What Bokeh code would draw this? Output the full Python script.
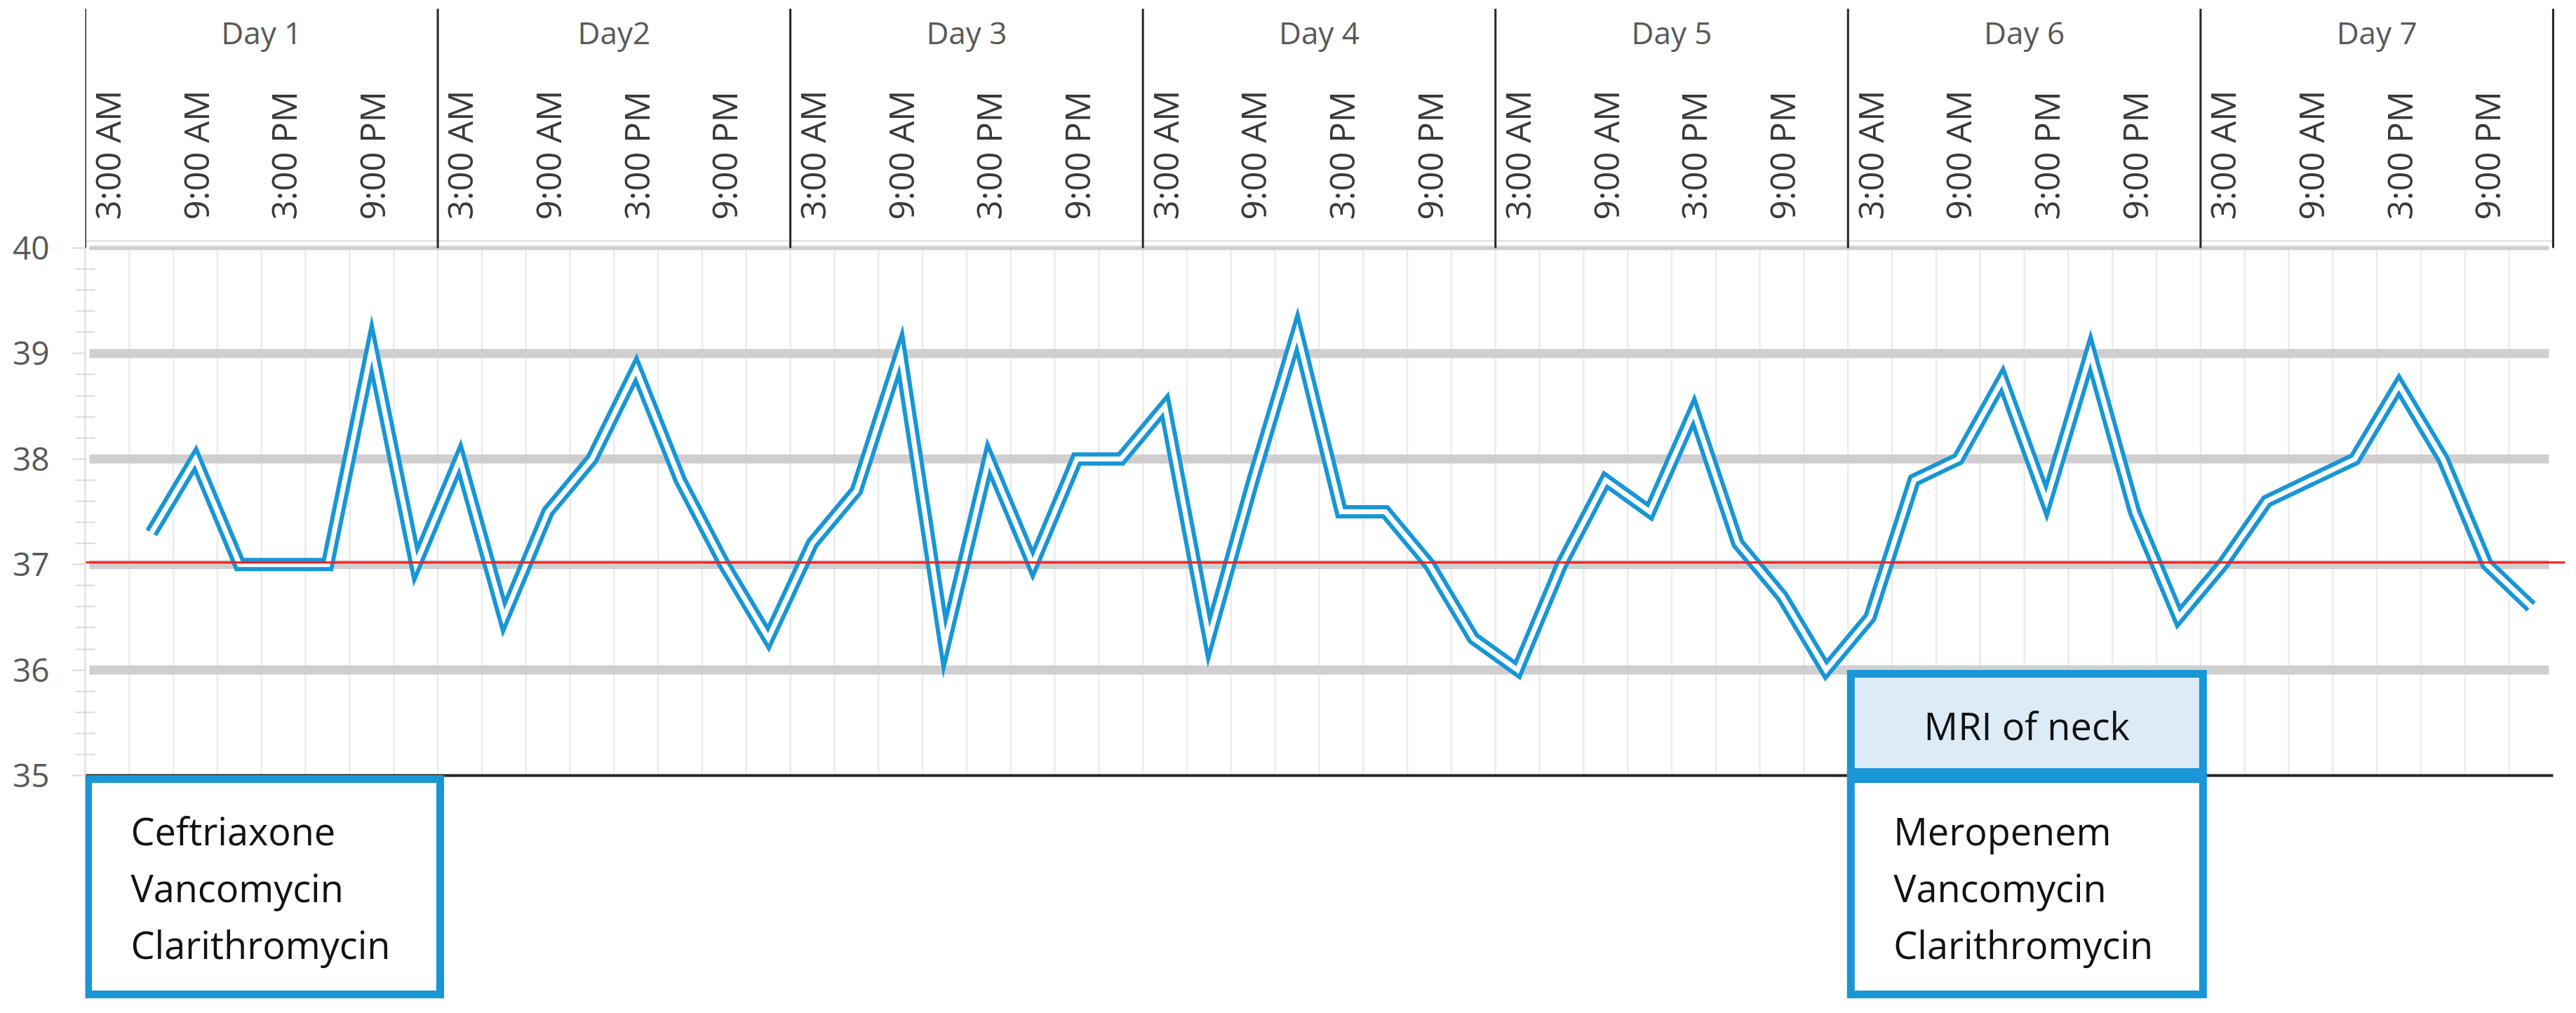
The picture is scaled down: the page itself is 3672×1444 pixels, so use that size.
import math
from bokeh.plotting import figure
from bokeh.models import FixedTicker
from bokeh.core.properties import value
from bokeh.embed import file_html
from bokeh.resources import INLINE

# ---------------- data ----------------
day_labels = ["Day 1", "Day2", "Day 3", "Day 4", "Day 5", "Day 6", "Day 7"]
time_labels = ["3:00 AM", "9:00 AM", "3:00 PM", "9:00 PM"]
slots_per_day = 8           # 3-hourly slots per day
first_reading_slot = 1      # first reading is the 2nd slot of Day 1
temperature = [37.3, 38.0, 37.0, 37.0, 37.0, 39.05, 37.0,
               38.0, 36.5, 37.5, 38.0, 38.85, 37.8, 37.0, 36.3,
               37.2, 37.7, 39.0, 36.25, 38.0, 37.0, 38.0, 38.0,
               38.5, 36.3, 37.8, 39.2, 37.5, 37.5, 37.0, 36.3,
               36.0, 37.0, 37.8, 37.5, 38.45, 37.2, 36.7, 36.0,
               36.5, 37.8, 38.0, 38.75, 37.6, 39.0, 37.5, 36.5,
               37.0, 37.6, 37.8, 38.0, 38.7, 38.0, 37.0, 36.6]
threshold = 37.0
y_ticks = [35, 36, 37, 38, 39, 40]
band_levels = [36, 37, 38, 39]
regimen_texts = [["Ceftriaxone", "Vancomycin", "Clarithromycin"],
                 ["Meropenem", "Vancomycin", "Clarithromycin"]]
regimen_start_slots = [0, 40]
event_label = "MRI of neck"
event_start_slot = 40

# ---------------- geometry / style ----------------
W, H = 3672, 1444
LEFT = 121
PX_SLOT = 62.82
PX_DEG = 150.4
TOP_PX = 353      # pixel row of the 40 line
BOT_PX = 1105     # pixel row of the 35 line


def dx(px):
    return px / PX_SLOT


def dy(px):
    return px / PX_DEG


n_slots = len(day_labels) * slots_per_day
left_edge = -0.5
right_edge = n_slots - 0.5
y_lo, y_hi = min(y_ticks), max(y_ticks)

x_start = left_edge
x_end = left_edge + (W - LEFT) / PX_SLOT
y_end = y_hi + dy(TOP_PX)
y_start = y_lo - dy(H - BOT_PX)

BLUE = "#1896D6"
FONT = "Open Sans"

p = figure(width=W, height=H, x_range=(x_start, x_end), y_range=(y_start, y_end),
           output_backend="svg", toolbar_location=None, x_axis_location=None, title=None,
           min_border_left=LEFT, min_border_right=0, min_border_top=0, min_border_bottom=0)
p.xgrid.visible = False
p.ygrid.visible = False
p.outline_line_color = None
p.background_fill_color = "white"
p.border_fill_color = "white"

# y axis
ax = p.yaxis[0]
ax.bounds = (y_lo, y_hi)
minor = [y_lo + 0.2 * i for i in range(int((y_hi - y_lo) * 5) + 1) if i % 5]
ax.ticker = FixedTicker(ticks=y_ticks, minor_ticks=minor)
ax.axis_line_color = "#D9D9D9"
ax.axis_line_width = 2
ax.major_tick_line_color = "#D9D9D9"
ax.major_tick_line_width = 2
ax.major_tick_out = 18
ax.major_tick_in = 0
ax.minor_tick_line_color = "#D9D9D9"
ax.minor_tick_line_width = 2
ax.minor_tick_out = 14
ax.minor_tick_in = 14
ax.major_label_text_font = FONT
ax.major_label_text_font_size = "46px"
ax.major_label_text_color = "#595959"
ax.major_label_standoff = 33

# vertical minor grid lines (slot boundaries)
vx = [k - 0.5 for k in range(1, n_slots)]
p.segment(x0=vx, y0=y_lo, x1=vx, y1=y_hi, line_color="#EBEBEB", line_width=2.5)

# horizontal gray bands
p.segment(x0=left_edge + dx(6), x1=right_edge - dx(6), y0=band_levels, y1=band_levels,
          line_color="#D0CECE", line_width=13)
p.segment(x0=left_edge + dx(6), x1=right_edge - dx(6), y0=y_hi, y1=y_hi,
          line_color="#D0CECE", line_width=6)
p.segment(x0=left_edge, x1=right_edge, y0=y_hi + dy(10), y1=y_hi + dy(10),
          line_color="#DCDCDC", line_width=2)

# temperature (double line)
xs = list(range(first_reading_slot, first_reading_slot + len(temperature)))
p.line(xs, temperature, line_color=BLUE, line_width=19, line_join="miter", line_cap="butt")
p.line(xs, temperature, line_color="white", line_width=7, line_join="miter", line_cap="butt")

# threshold line
p.segment(x0=left_edge - dx(3), x1=right_edge + dx(17), y0=threshold + dy(3), y1=threshold + dy(3),
          line_color="#FF1A1A", line_width=3)

# bottom axis line
p.segment(x0=left_edge, x1=right_edge, y0=y_lo, y1=y_lo, line_color="#262626", line_width=4)

# header: day separators, time labels, day labels
sep_x = [left_edge + d * slots_per_day for d in range(len(day_labels) + 1)]
p.segment(x0=sep_x, x1=sep_x, y0=y_hi, y1=y_hi + dy(341), line_color="#262626", line_width=3)

step = slots_per_day // len(time_labels)
tl_x, tl_t = [], []
for d in range(len(day_labels)):
    for j, t in enumerate(time_labels):
        tl_x.append(d * slots_per_day + j * step)
        tl_t.append(t)
p.text(x=tl_x, y=y_hi + dy(40), text=tl_t, angle=math.pi / 2,
       text_align="left", text_baseline="middle",
       text_font=value(FONT), text_font_size="49px", text_color="#3A3A3A")

dl_x = [d * slots_per_day + (slots_per_day - 1) / 2 for d in range(len(day_labels))]
p.text(x=dl_x, y=y_hi + dy(308), text=day_labels, text_align="center", text_baseline="middle",
       text_font=value(FONT), text_font_size="44px", text_color="#595959")

# annotation boxes
bl = [left_edge + s + dx(4) for s in regimen_start_slots]
br = [left_edge + s + dx(506) for s in regimen_start_slots]
p.quad(left=bl, right=br, top=y_lo - dy(5), bottom=y_lo - dy(312),
       fill_color="white", line_color=BLUE, line_width=11, line_join="miter")

ev_l = left_edge + event_start_slot + dx(4)
ev_r = left_edge + event_start_slot + dx(506)
p.quad(left=[ev_l], right=[ev_r], top=[y_lo + dy(145)], bottom=[y_lo + dy(5)],
       fill_color="#DDEBF7", line_color=BLUE, line_width=11, line_join="miter")
p.text(x=[(ev_l + ev_r) / 2], y=[y_lo + dy(72)], text=[event_label],
       text_align="center", text_baseline="middle",
       text_font=value(FONT), text_font_size="54px", text_color="#111111")

tx, ty, tt = [], [], []
for s, lines in zip(regimen_start_slots, regimen_texts):
    for i, t in enumerate(lines):
        tx.append(left_edge + s + dx(65))
        ty.append(y_lo - dy(78 + 81 * i))
        tt.append(t)
p.text(x=tx, y=ty, text=tt, text_align="left", text_baseline="middle",
       text_font=value(FONT), text_font_size="54px", text_color="#111111")

open("out.html", "w").write(file_html(p, INLINE))
